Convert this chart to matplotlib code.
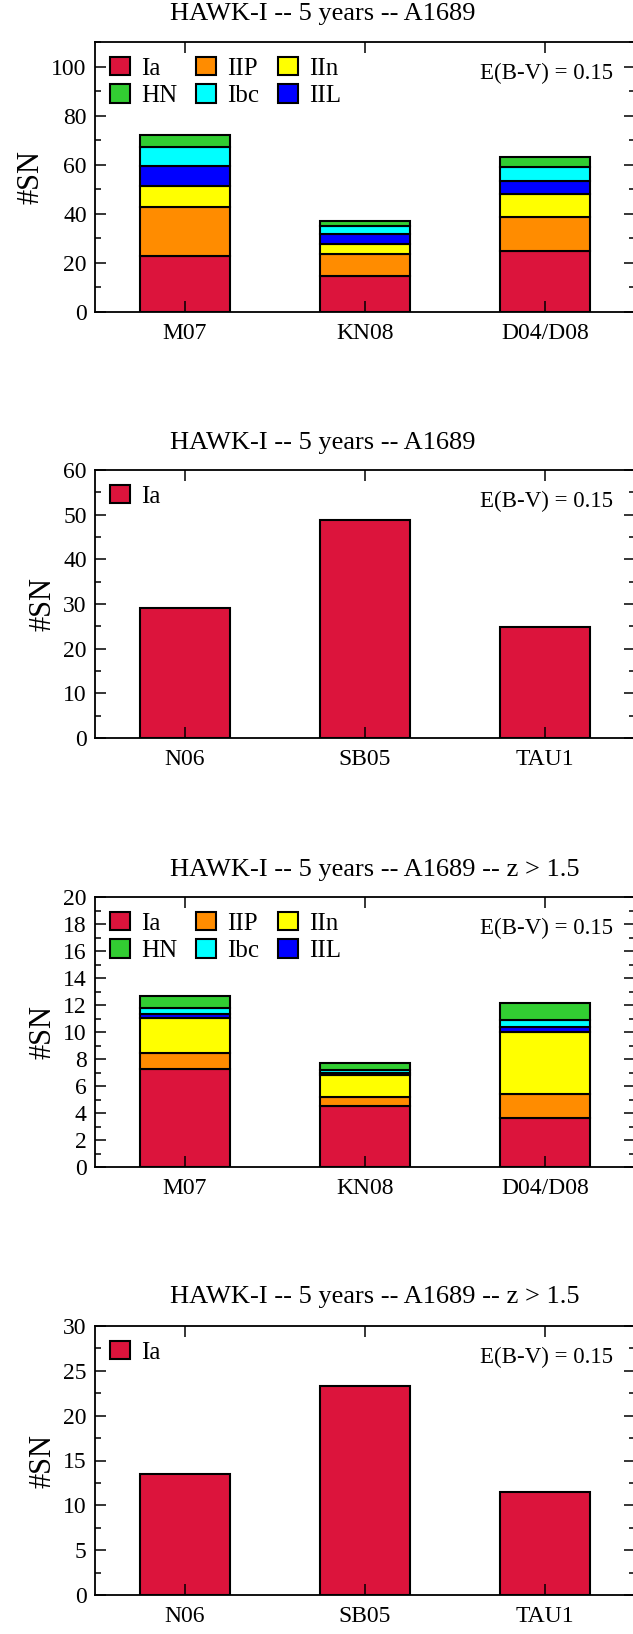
import numpy as np
import matplotlib
matplotlib.use("Agg")
import matplotlib.pyplot as plt
from matplotlib.patches import Patch
from matplotlib.ticker import MultipleLocator

plt.rcParams["font.family"] = ["Liberation Serif", "DejaVu Serif"]

# stacked panels: all SN types per model
models_all = ["M07", "KN08", "D04/D08"]
sn_types = ["Ia", "IIP", "IIn", "IIL", "Ibc", "HN"]
sn_colors = ["#dc143c", "#ff8c00", "#ffff00", "#0000ff", "#00ffff", "#32cd32"]

counts_all = {
    "Ia":  [23.0, 14.6, 24.8],
    "IIP": [19.6, 8.9, 14.0],
    "IIn": [8.8, 4.3, 9.2],
    "IIL": [8.2, 3.8, 5.3],
    "Ibc": [7.7, 3.4, 5.9],
    "HN":  [4.8, 2.1, 4.1],
}
counts_z15 = {
    "Ia":  [7.25, 4.50, 3.66],
    "IIP": [1.22, 0.67, 1.74],
    "IIn": [2.60, 1.63, 4.60],
    "IIL": [0.28, 0.18, 0.40],
    "Ibc": [0.42, 0.20, 0.50],
    "HN":  [0.89, 0.49, 1.23],
}

# Ia-only panels
models_ia = ["N06", "SB05", "TAU1"]
ia_all = [29.1, 48.9, 24.9]
ia_z15 = [13.5, 23.3, 11.46]

title_all = "HAWK-I -- 5 years -- A1689"
title_z15 = "HAWK-I -- 5 years -- A1689 -- z > 1.5"

W, H = 633, 1634
fig = plt.figure(figsize=(W / 100, H / 100), dpi=100)

# (top px, bottom px) of each axes box
boxes = [(42, 312), (470, 738), (897, 1167), (1326, 1595)]
titles_y = [14, 443, 870, 1297]
left_px, right_px = 95, 635

leg_kw = dict(loc="upper left", frameon=False, fontsize=18,
              handlelength=0.8, handleheight=0.76, handletextpad=0.44,
              borderaxespad=0.3, borderpad=0.3, labelspacing=0.18)


def make_axes(i):
    top, bot = boxes[i]
    ax = fig.add_axes([left_px / W, 1 - bot / H, (right_px - left_px) / W, (bot - top) / H])
    for s in ax.spines.values():
        s.set_linewidth(1.3)
    ax.tick_params(which="both", direction="in", top=True, right=True, width=1.1,
                   labelsize=17)
    ax.tick_params(which="major", length=8)
    ax.tick_params(which="minor", length=4)
    ax.tick_params(axis="x", pad=8)
    ax.tick_params(axis="y", pad=6)
    ax.set_ylabel("#SN", fontsize=22, labelpad=4)
    fig.text(170 / W, 1 - titles_y[i] / H, title_all if i < 2 else title_z15,
             ha="left", va="center", fontsize=19)
    ax.text(0.959, 0.884, "E(B-V) = 0.15", transform=ax.transAxes, ha="right",
            va="center", fontsize=16.5)
    return ax


def stacked(ax, counts, ymax, major, minor):
    x = np.arange(1, len(models_all) + 1)
    base = np.zeros(len(models_all))
    for t, c in zip(sn_types, sn_colors):
        vals = np.array(counts[t])
        ax.bar(x, vals, bottom=base, width=0.5, color=c, edgecolor="black", linewidth=1.5)
        base += vals
    ax.set_xticks(x)
    ax.set_xticklabels(models_all)
    ax.set_xlim(0.5, 3.5)
    ax.set_ylim(0, ymax)
    ax.yaxis.set_major_locator(MultipleLocator(major))
    ax.yaxis.set_minor_locator(MultipleLocator(minor))
    # legend fills column by column, so interleave the two rows
    order = ["Ia", "HN", "IIP", "Ibc", "IIn", "IIL"]
    handles = [Patch(facecolor=sn_colors[sn_types.index(t)], edgecolor="black",
                     linewidth=1.5, label=t) for t in order]
    ax.legend(handles=handles, ncol=3, columnspacing=0.75, **leg_kw)


def ia_only(ax, vals, ymax, major, minor):
    x = np.arange(1, len(models_ia) + 1)
    ax.bar(x, vals, width=0.5, color=sn_colors[0], edgecolor="black", linewidth=1.5)
    ax.set_xticks(x)
    ax.set_xticklabels(models_ia)
    ax.set_xlim(0.5, 3.5)
    ax.set_ylim(0, ymax)
    ax.yaxis.set_major_locator(MultipleLocator(major))
    ax.yaxis.set_minor_locator(MultipleLocator(minor))
    h = [Patch(facecolor=sn_colors[0], edgecolor="black", linewidth=1.5, label="Ia")]
    ax.legend(handles=h, **leg_kw)


ax1 = make_axes(0)
stacked(ax1, counts_all, 110, 20, 10)
ax2 = make_axes(1)
ia_only(ax2, ia_all, 60, 10, 5)
ax3 = make_axes(2)
stacked(ax3, counts_z15, 20, 2, 1)
ax4 = make_axes(3)
ia_only(ax4, ia_z15, 30, 5, 2.5)

fig.savefig("out.png", dpi=100)
